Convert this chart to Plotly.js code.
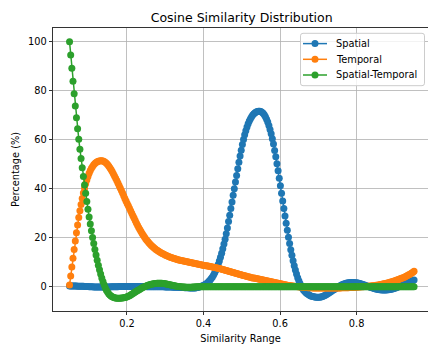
<!DOCTYPE html>
<html>
<head>
<meta charset="utf-8">
<script src="https://cdn.plot.ly/plotly-3.0.1.min.js"></script>
<style>html,body{margin:0;padding:0;background:#fff;}#chart{width:428px;height:344px;}</style>
</head>
<body>
<div id="chart"></div>
<script>
// Sampling grid of the similarity axis (300 evenly spaced samples)
const X_START = 0.05;
const X_STEP = 0.0030100334;

const seriesNames = ["Spatial", "Temporal", "Spatial-Temporal"];
const seriesColors = ["#1f77b4", "#ff7f0e", "#2ca02c"];

const spatial = [
0.3,0.3,0.3,0.3,0.3,0.3,0.3,0.2,0.2,0.2,
0.2,0.2,0.2,0.1,0.1,0.1,0.1,0.0,0.0,0.0,
0.0,-0.1,-0.1,-0.1,-0.1,-0.1,-0.1,-0.1,-0.1,-0.1,
-0.1,-0.1,-0.1,-0.1,-0.1,-0.1,0.0,0.0,0.0,0.0,
0.0,0.0,0.0,0.1,0.1,0.1,0.1,0.1,0.1,0.1,
0.1,0.1,0.1,0.1,0.1,0.1,0.1,0.1,0.1,0.1,
0.1,0.1,0.1,0.1,0.1,0.1,0.1,0.0,0.0,0.0,
0.0,0.0,0.0,0.0,0.0,0.0,0.0,0.0,0.0,0.0,
0.0,0.0,0.0,-0.1,-0.1,-0.1,-0.1,-0.1,-0.1,-0.1,
-0.2,-0.2,-0.2,-0.2,-0.2,-0.3,-0.3,-0.3,-0.3,-0.3,
-0.4,-0.4,-0.4,-0.4,-0.5,-0.5,-0.5,-0.5,-0.5,-0.5,
-0.4,-0.3,-0.2,0.0,0.1,0.3,0.5,0.7,1.0,1.3,
1.7,2.2,2.7,3.3,4.0,4.8,5.7,6.7,7.8,9.1,
10.5,12.0,13.7,15.5,17.4,19.4,21.6,24.0,26.6,29.2,
31.9,34.6,37.3,40.0,42.7,45.4,48.1,50.8,53.3,55.7,
58.0,60.1,62.0,63.7,65.2,66.5,67.6,68.6,69.4,70.1,
70.6,71.0,71.3,71.5,71.6,71.6,71.5,71.2,70.8,70.2,
69.4,68.4,67.2,65.8,64.2,62.4,60.4,58.2,55.6,53.0,
50.2,47.3,44.3,41.2,38.1,35.0,31.9,28.9,25.9,23.0,
20.2,17.6,15.1,12.8,10.6,8.6,6.8,5.2,3.7,2.4,
1.3,0.3,-0.6,-1.3,-1.9,-2.4,-2.8,-3.1,-3.4,-3.7,
-3.9,-4.0,-4.1,-4.2,-4.3,-4.3,-4.3,-4.3,-4.2,-4.1,
-3.9,-3.7,-3.5,-3.2,-2.9,-2.6,-2.3,-2.0,-1.6,-1.3,
-1.0,-0.7,-0.4,-0.1,0.2,0.4,0.7,0.9,1.1,1.2,
1.4,1.5,1.6,1.6,1.7,1.7,1.7,1.7,1.6,1.6,
1.5,1.4,1.3,1.1,1.0,0.8,0.7,0.5,0.3,0.2,
0.0,-0.2,-0.3,-0.5,-0.6,-0.8,-0.9,-1.0,-1.1,-1.2,
-1.2,-1.3,-1.3,-1.3,-1.3,-1.3,-1.2,-1.2,-1.1,-1.0,
-0.9,-0.8,-0.6,-0.5,-0.3,-0.1,0.1,0.3,0.5,0.7,
0.9,1.1,1.3,1.5,1.7,1.9,2.1,2.3,2.5,2.7
];

const temporal = [
0.7,4.4,8.0,11.6,15.2,18.7,22.0,25.2,28.2,31.0,
33.6,36.0,38.2,40.2,42.0,43.6,45.0,46.3,47.4,48.3,
49.1,49.8,50.3,50.7,51.0,51.2,51.3,51.4,51.4,51.3,
51.1,50.8,50.4,49.9,49.3,48.6,47.8,47.0,46.1,45.2,
44.3,43.3,42.3,41.3,40.3,39.3,38.2,37.1,36.0,35.0,
34.0,33.0,32.0,31.0,30.0,29.0,28.0,27.0,26.0,25.1,
24.2,23.3,22.5,21.7,21.0,20.3,19.6,19.0,18.4,17.8,
17.3,16.8,16.4,16.0,15.6,15.2,14.9,14.6,14.3,14.0,
13.7,13.4,13.2,12.9,12.7,12.5,12.3,12.1,11.9,11.8,
11.6,11.5,11.3,11.2,11.0,10.9,10.8,10.7,10.6,10.5,
10.4,10.3,10.2,10.1,10.0,9.9,9.8,9.7,9.6,9.5,
9.4,9.3,9.2,9.1,9.0,8.9,8.8,8.7,8.6,8.5,
8.4,8.3,8.2,8.1,8.0,7.9,7.8,7.7,7.6,7.5,
7.4,7.3,7.1,7.0,6.9,6.7,6.6,6.5,6.3,6.2,
6.1,5.9,5.8,5.7,5.5,5.4,5.3,5.1,5.0,4.9,
4.7,4.6,4.5,4.4,4.2,4.1,4.0,3.9,3.7,3.6,
3.5,3.4,3.3,3.2,3.1,3.0,2.9,2.8,2.7,2.6,
2.5,2.4,2.3,2.2,2.1,2.0,1.9,1.8,1.7,1.6,
1.5,1.4,1.3,1.2,1.1,1.0,0.9,0.8,0.7,0.6,
0.5,0.5,0.4,0.3,0.3,0.2,0.1,0.1,0.0,0.0,
-0.1,-0.1,-0.2,-0.2,-0.3,-0.3,-0.3,-0.4,-0.4,-0.4,
-0.4,-0.5,-0.5,-0.5,-0.5,-0.5,-0.5,-0.5,-0.5,-0.5,
-0.5,-0.5,-0.5,-0.5,-0.5,-0.5,-0.5,-0.5,-0.5,-0.5,
-0.5,-0.5,-0.5,-0.5,-0.5,-0.5,-0.4,-0.4,-0.4,-0.4,
-0.4,-0.4,-0.4,-0.3,-0.3,-0.3,-0.3,-0.2,-0.2,-0.2,
-0.1,-0.1,-0.1,0.0,0.0,0.0,0.1,0.1,0.1,0.2,
0.2,0.3,0.3,0.4,0.4,0.5,0.6,0.6,0.7,0.8,
0.9,1.0,1.1,1.2,1.3,1.4,1.5,1.6,1.8,1.9,
2.0,2.2,2.3,2.5,2.7,2.8,3.0,3.2,3.4,3.6,
3.8,4.0,4.3,4.5,4.8,5.0,5.3,5.6,5.9,6.3
];

const spatialTemporal = [
100,94.6,89.2,83.9,78.8,73.8,69.0,64.5,60.2,56.1,
52.3,48.6,45.0,41.5,38.1,34.8,31.6,28.5,25.6,22.8,
20.1,17.6,15.2,12.9,10.8,8.8,6.9,5.2,3.6,2.1,
0.8,-0.4,-1.4,-2.2,-2.9,-3.4,-3.8,-4.1,-4.3,-4.5,
-4.6,-4.7,-4.7,-4.7,-4.7,-4.6,-4.6,-4.5,-4.4,-4.3,
-4.1,-3.9,-3.7,-3.4,-3.1,-2.8,-2.5,-2.2,-1.9,-1.6,
-1.3,-1.0,-0.7,-0.4,-0.2,0.0,0.2,0.4,0.6,0.7,
0.9,1.0,1.1,1.2,1.3,1.3,1.4,1.4,1.4,1.4,
1.4,1.3,1.3,1.2,1.1,1.0,0.9,0.8,0.7,0.6,
0.5,0.4,0.3,0.2,0.1,0.1,0.0,0.0,-0.1,-0.1,
-0.1,-0.2,-0.2,-0.2,-0.2,-0.2,-0.2,-0.1,-0.1,-0.1,
0,0,0,0,0,0,0,0,0,0,
0,0,0,0,0,0,0,0,0,0,
0,0,0,0,0,0,0,0,0,0,
0,0,0,0,0,0,0,0,0,0,
0,0,0,0,0,0,0,0,0,0,
0,0,0,0,0,0,0,0,0,0,
0,0,0,0,0,0,0,0,0,0,
0,0,0,0,0,0,0,0,0,0,
0,0,0,0,0,0,0,0,0,0,
0,0,0,0,0,0,0,0,0,0,
0,0,0,0,0,0,0,0,0,0,
0,0,0,0,0,0,0,0,0,0,
0,0,0,0,0,0,0,0,0,0,
0,0,0,0,0,0,0,0,0,0,
0,0,0,0,0,0,0,0,0,0,
0,0,0,0,0,0,0,0,0,0,
0,0,0,0,0,0,0,0,0,0,
0,0,0,0,0,0,0,0,0,0,
0,0,0,0,0,0,0,0,0,0
];

const xTickVals = [0.2, 0.4, 0.6, 0.8];
const yTickVals = [0, 20, 40, 60, 80, 100];

const allSeries = [spatial, temporal, spatialTemporal];
const MARKER_SIZE = 7;
const traces = allSeries.map((ys, k) => ({
  type: 'scatter',
  mode: 'lines+markers',
  name: seriesNames[k],
  x0: X_START,
  dx: X_STEP,
  y: ys,
  line: {color: seriesColors[k], width: 1.5},
  marker: {color: seriesColors[k], size: MARKER_SIZE, line: {width: 0}}
}));

// Plot-area geometry (pixels) used to place the matplotlib-style legend box
const W = 428, H = 344, ML = 53, MR = 0, MT = 28, MB = 33;
const PW = W - ML - MR, PH = H - MT - MB;
const px = v => (v - ML) / PW;          // pixel x -> paper x
const py = v => (H - MB - v) / PH;      // pixel y -> paper y

const FONT = 'DejaVu Sans, Verdana, sans-serif';

// Legend (drawn like matplotlib's: rounded frame, short line + marker, label)
const LEG = {x0: 300.5, x1: 424.5, y0: 33.3, y1: 85.7, r: 2.5,
             lineX0: 303, lineX1: 327, textX: 334, rows: [43.6, 59.3, 75.0]};
const shapes = [];
const annotations = [];
{
  const a = px(LEG.x0), b = px(LEG.x1), t = py(LEG.y0), u = py(LEG.y1);
  const rx = LEG.r / PW, ry = LEG.r / PH;
  const path = `M ${a+rx},${t} L ${b-rx},${t} Q ${b},${t} ${b},${t-ry} L ${b},${u+ry} Q ${b},${u} ${b-rx},${u} ` +
               `L ${a+rx},${u} Q ${a},${u} ${a},${u+ry} L ${a},${t-ry} Q ${a},${t} ${a+rx},${t} Z`;
  shapes.push({type: 'path', xref: 'paper', yref: 'paper', path: path,
               fillcolor: 'rgba(255,255,255,0.8)', line: {color: '#cccccc', width: 1}, layer: 'above'});
  seriesNames.forEach((nm, k) => {
    const yy = py(LEG.rows[k]);
    shapes.push({type: 'line', xref: 'paper', yref: 'paper', x0: px(LEG.lineX0), x1: px(LEG.lineX1), y0: yy, y1: yy,
                 line: {color: seriesColors[k], width: 1.5}, layer: 'above'});
    const cx = px((LEG.lineX0 + LEG.lineX1) / 2);
    shapes.push({type: 'circle', xref: 'paper', yref: 'paper', xsizemode: 'pixel', ysizemode: 'pixel',
                 xanchor: cx, yanchor: yy, x0: -MARKER_SIZE/2, x1: MARKER_SIZE/2, y0: -MARKER_SIZE/2, y1: MARKER_SIZE/2,
                 fillcolor: seriesColors[k], line: {width: 0}, layer: 'above'});
    annotations.push({xref: 'paper', yref: 'paper', x: px(LEG.textX), y: yy, xanchor: 'left', yanchor: 'middle',
                      text: nm, showarrow: false, font: {family: FONT, size: 9.8, color: '#000000'}});
  });
}

const layout = {
  width: W,
  height: H,
  margin: {l: ML, r: MR, t: MT, b: MB, pad: 0},
  paper_bgcolor: '#ffffff',
  plot_bgcolor: '#ffffff',
  font: {family: FONT, size: 9.8, color: '#000000'},
  showlegend: false,
  title: {
    text: 'Cosine Similarity Distribution',
    font: {family: FONT, size: 12.5, color: '#000000'},
    xref: 'container', x: 0.5647, xanchor: 'center',
    yref: 'container', y: 0.949, yanchor: 'middle'
  },
  xaxis: {
    range: [0.0068, 0.9864],
    tickvals: xTickVals,
    showgrid: true, gridcolor: '#b0b0b0', gridwidth: 0.8,
    zeroline: false,
    showline: true, linecolor: '#000000', linewidth: 0.8, mirror: true,
    ticks: 'outside', ticklen: 3.5, tickwidth: 0.8, tickcolor: '#000000',
    tickfont: {family: FONT, size: 9.8, color: '#000000'},
    title: {text: 'Similarity Range', font: {family: FONT, size: 9.8, color: '#000000'}, standoff: 6},
    automargin: false
  },
  yaxis: {
    range: [-9.92, 105.6],
    tickvals: yTickVals,
    showgrid: true, gridcolor: '#b0b0b0', gridwidth: 0.8,
    zeroline: false,
    showline: true, linecolor: '#000000', linewidth: 0.8, mirror: false,
    ticks: 'outside', ticklen: 3.5, tickwidth: 0.8, tickcolor: '#000000',
    tickfont: {family: FONT, size: 9.8, color: '#000000'},
    title: {text: 'Percentage (%)', font: {family: FONT, size: 9.8, color: '#000000'}, standoff: 6},
    automargin: false
  },
  shapes: shapes,
  annotations: annotations
};

Plotly.newPlot('chart', traces, layout, {staticPlot: true, displayModeBar: false});
</script>
</body>
</html>
